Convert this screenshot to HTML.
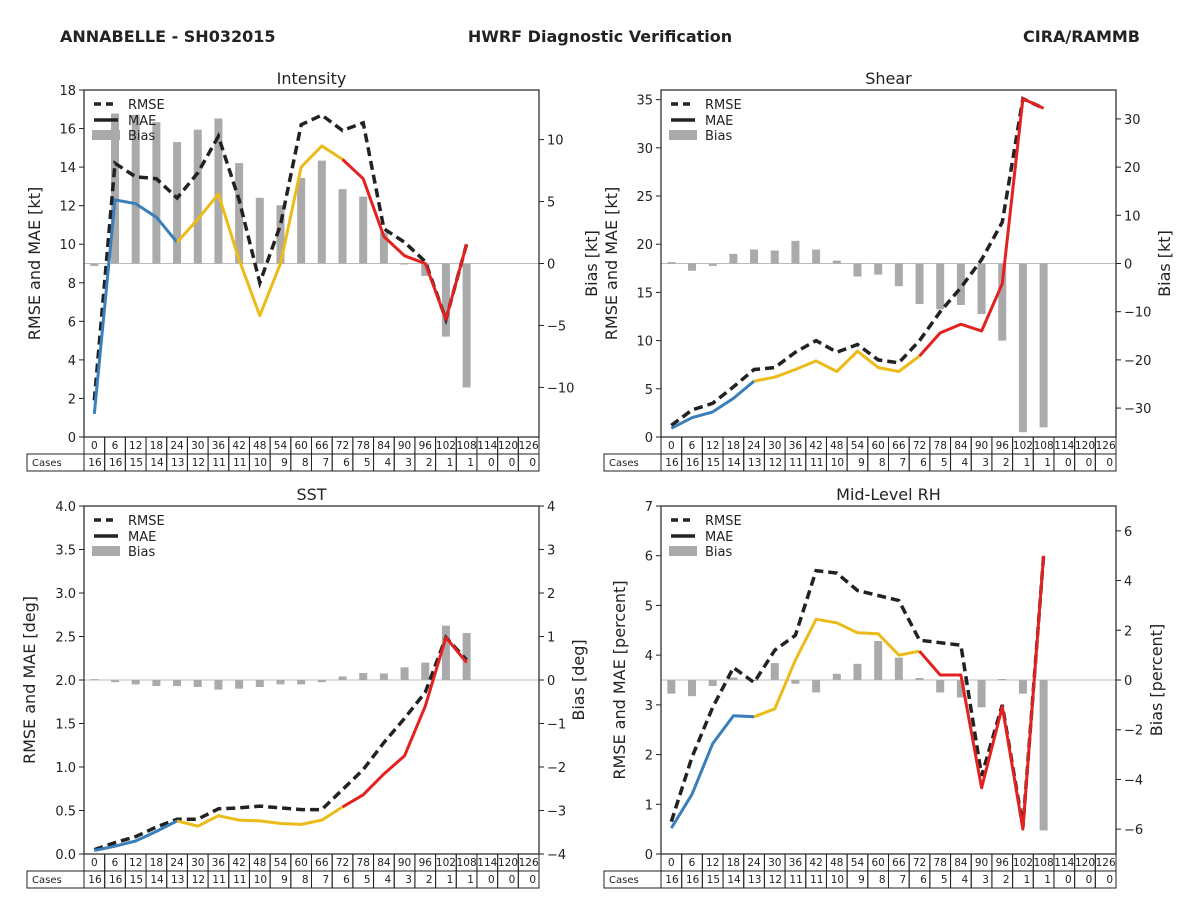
<!DOCTYPE html>
<html><head><meta charset="utf-8"><style>
body{margin:0;background:#fff;}
svg{display:block;font-family:"DejaVu Sans","Liberation Sans",sans-serif;}
</style></head><body>
<svg id="c" width="1200" height="900" viewBox="0 0 1200 900">
<text x="60" y="42" font-size="16" font-weight="bold" fill="#222">ANNABELLE - SH032015</text>
<text x="600" y="42" font-size="16" font-weight="bold" fill="#222" text-anchor="middle">HWRF Diagnostic Verification</text>
<text x="1140" y="42" font-size="16" font-weight="bold" fill="#222" text-anchor="end">CIRA/RAMMB</text>
</svg>
<script>
const leads=[0,6,12,18,24,30,36,42,48,54,60,66,72,78,84,90,96,102,108,114,120,126];
const cases=[16,16,15,14,13,12,11,11,10,9,8,7,6,5,4,3,2,1,1,0,0,0];
const intRmse=[1.9,14.2,13.5,13.4,12.4,13.7,15.6,12.3,8.0,11.0,16.2,16.7,15.9,16.3,10.8,10.1,9.1,6.1,10.0];
const intMae=[1.2,12.3,12.1,11.4,10.1,11.3,12.6,9.2,6.3,9.0,14.0,15.1,14.4,13.4,10.4,9.4,9.0,6.1,10.0];
const intBias=[-0.2,12.1,12.0,11.4,9.8,10.8,11.7,8.1,5.3,4.7,6.9,8.3,6.0,5.4,2.5,0,-1.0,-5.9,-10.0];
const shRmse=[1.2,2.8,3.5,5.2,7.0,7.2,8.8,10.0,8.8,9.6,8.0,7.7,10.0,13.0,15.5,18.4,22.3,35.1,34.1];
const shMae=[0.9,2.0,2.6,4.0,5.8,6.2,7.0,7.9,6.8,8.9,7.2,6.8,8.4,10.8,11.7,11.0,15.9,35.1,34.1];
const shBias=[0.3,-1.5,-0.5,2.0,2.9,2.7,4.7,2.9,0.6,-2.7,-2.3,-4.7,-8.4,-9.5,-8.6,-10.5,-16.0,-35,-34];
const sstRmse=[0.05,0.13,0.2,0.31,0.40,0.40,0.52,0.53,0.55,0.53,0.51,0.51,0.74,0.97,1.28,1.56,1.86,2.49,2.23];
const sstMae=[0.04,0.09,0.15,0.26,0.38,0.32,0.44,0.39,0.38,0.35,0.34,0.39,0.54,0.68,0.92,1.13,1.70,2.49,2.2];
const sstBias=[0.02,-0.05,-0.1,-0.14,-0.14,-0.16,-0.22,-0.2,-0.16,-0.1,-0.1,-0.05,0.08,0.16,0.15,0.29,0.4,1.25,1.08];
const rhRmse=[0.65,1.95,2.95,3.75,3.45,4.1,4.4,5.7,5.65,5.3,5.2,5.1,4.3,4.25,4.2,1.57,3.0,0.55,6.0];
const rhMae=[0.52,1.2,2.22,2.78,2.76,2.92,3.9,4.72,4.65,4.45,4.43,4.0,4.08,3.6,3.6,1.33,2.96,0.5,6.0];
const rhBias=[-0.55,-0.65,-0.24,0.1,0,0.68,-0.15,-0.5,0.25,0.65,1.57,0.9,0.08,-0.5,-0.7,-1.1,0.04,-0.55,-6.05];

const NS='http://www.w3.org/2000/svg';
const svg=document.getElementById('c');
function mk(tag,attrs,parent,txt){const e=document.createElementNS(NS,tag);for(const k in attrs)e.setAttribute(k,attrs[k]);if(txt!==undefined)e.textContent=txt;(parent||svg).appendChild(e);return e;}

const panels=[
 {key:'intensity',title:'Intensity',x0:84,y0:90,w:455,h:347,lmax:18,lticks:[0,2,4,6,8,10,12,14,16,18],rmax:14,rticks:[-10,-5,0,5,10],dec:0,yl:'RMSE and MAE [kt]',yr:'Bias [kt]',ylx:40,yrx:597,rmse:intRmse,mae:intMae,bias:intBias,casesX:27},
 {key:'shear',title:'Shear',x0:661,y0:90,w:455,h:347,lmax:36,lticks:[0,5,10,15,20,25,30,35],rmax:36,rticks:[-30,-20,-10,0,10,20,30],dec:0,yl:'RMSE and MAE [kt]',yr:'Bias [kt]',ylx:617,yrx:1170,rmse:shRmse,mae:shMae,bias:shBias,casesX:604},
 {key:'sst',title:'SST',x0:84,y0:506,w:455,h:348,lmax:4,lticks:[0,0.5,1,1.5,2,2.5,3,3.5,4],rmax:4,rticks:[-4,-3,-2,-1,0,1,2,3,4],dec:1,yl:'RMSE and MAE [deg]',yr:'Bias [deg]',ylx:35,yrx:584,rmse:sstRmse,mae:sstMae,bias:sstBias,casesX:27},
 {key:'rh',title:'Mid-Level RH',x0:661,y0:506,w:455,h:348,lmax:7,lticks:[0,1,2,3,4,5,6,7],rmax:7,rticks:[-6,-4,-2,0,2,4,6],dec:0,yl:'RMSE and MAE [percent]',yr:'Bias [percent]',ylx:625,yrx:1162,rmse:rhRmse,mae:rhMae,bias:rhBias,casesX:604}
];

panels.forEach(p=>{
 const g=mk('g',{});
 
 
 const cw=p.w/leads.length;
 const X=v=>p.x0+(v+3)/6*cw;
 const YL=v=>p.y0+p.h-v/p.lmax*p.h;
 const YR=v=>p.y0+p.h/2-v/p.rmax*(p.h/2);
 const t=mk('text',{x:p.x0+p.w/2,y:p.y0-6,'font-size':16,'text-anchor':'middle',fill:'#222'},g,p.title);
 
 // zero line
 mk('line',{x1:p.x0,x2:p.x0+p.w,y1:YR(0),y2:YR(0),stroke:'#bbb','stroke-width':1},g);
 // bias bars
 p.bias.forEach((b,i)=>{
  const y1=YR(Math.max(b,0)),y2=YR(Math.min(b,0));
  const r=mk('rect',{x:X(leads[i])-4,y:y1,width:8,height:Math.max(y2-y1,1),fill:'#aaaaaa'},g);
  
 });
 // rmse
 const rp=p.rmse.map((v,i)=>X(leads[i]).toFixed(1)+','+YL(v).toFixed(1)).join(' ');
 const rl=mk('polyline',{points:rp,fill:'none',stroke:'#222','stroke-width':3.5,'stroke-dasharray':'9,5'},g);
 
 // mae segments
 const segs=[[0,4,'#3a7fba'],[4,12,'#ebbb19'],[12,p.mae.length-1,'#e3211f']];
 segs.forEach(([a,b,c])=>{
  const pts=[];for(let i=a;i<=b&&i<p.mae.length;i++)pts.push(X(leads[i]).toFixed(1)+','+YL(p.mae[i]).toFixed(1));
  const l=mk('polyline',{points:pts.join(' '),fill:'none',stroke:c,'stroke-width':3,'stroke-linejoin':'round'},g);
  
 });
 // frame
 mk('rect',{x:p.x0,y:p.y0,width:p.w,height:p.h,fill:'none',stroke:'#222','stroke-width':1.2},g);
 // left ticks
 p.lticks.forEach(v=>{const y=YL(v);mk('line',{x1:p.x0-5,x2:p.x0,y1:y,y2:y,stroke:'#222'},g);
  mk('text',{x:p.x0-8,y:y+5,'font-size':13,'text-anchor':'end',fill:'#222'},g,v.toFixed(p.dec));});
 p.rticks.forEach(v=>{const y=YR(v);mk('line',{x1:p.x0+p.w,x2:p.x0+p.w+5,y1:y,y2:y,stroke:'#222'},g);
  mk('text',{x:p.x0+p.w+8,y:y+5,'font-size':13,fill:'#222'},g,v<0?'\u2212'+Math.abs(v):String(v));});
 const a1=mk('text',{x:p.ylx,y:p.y0+p.h/2,'font-size':16,'text-anchor':'middle',fill:'#222',transform:`rotate(-90 ${p.ylx} ${p.y0+p.h/2})`},g,p.yl);
 
 const a2=mk('text',{x:p.yrx,y:p.y0+p.h/2,'font-size':16,'text-anchor':'middle',fill:'#222',transform:`rotate(-90 ${p.yrx} ${p.y0+p.h/2})`},g,p.yr);
 
 // legend
 const lx=p.x0+10,ly=p.y0+14;
 const lg=mk('g',{},g);
 
 mk('line',{x1:lx,x2:lx+24,y1:ly,y2:ly,stroke:'#222','stroke-width':3.5,'stroke-dasharray':'7,5'},lg);
 mk('text',{x:lx+34,y:ly+5,'font-size':13,fill:'#222'},lg,'RMSE');
 mk('line',{x1:lx,x2:lx+24,y1:ly+16,y2:ly+16,stroke:'#222','stroke-width':3.5},lg);
 mk('text',{x:lx+34,y:ly+21,'font-size':13,fill:'#222'},lg,'MAE');
 mk('rect',{x:lx-2,y:ly+26,width:28,height:10,fill:'#aaaaaa'},lg);
 mk('text',{x:lx+34,y:ly+36,'font-size':13,fill:'#222'},lg,'Bias');
 // table
 const tb=mk('g',{},g);
 
 const ty=p.y0+p.h;
 mk('rect',{x:p.casesX,y:ty+17,width:p.x0-p.casesX,height:17,fill:'none',stroke:'#222'},tb);
 mk('text',{x:p.casesX+5,y:ty+29,'font-size':10,fill:'#222'},tb,'Cases');
 leads.forEach((l,i)=>{
  const cx=p.x0+i*cw;
  mk('rect',{x:cx,y:ty,width:cw,height:17,fill:'none',stroke:'#222'},tb);
  mk('rect',{x:cx,y:ty+17,width:cw,height:17,fill:'none',stroke:'#222'},tb);
  mk('text',{x:cx+cw/2,y:ty+12,'font-size':10.5,'text-anchor':'middle',fill:'#222'},tb,String(l));
  mk('text',{x:cx+cw-3,y:ty+29,'font-size':10.5,'text-anchor':'end',fill:'#222'},tb,String(cases[i]));
 });
});
</script>
</body></html>
